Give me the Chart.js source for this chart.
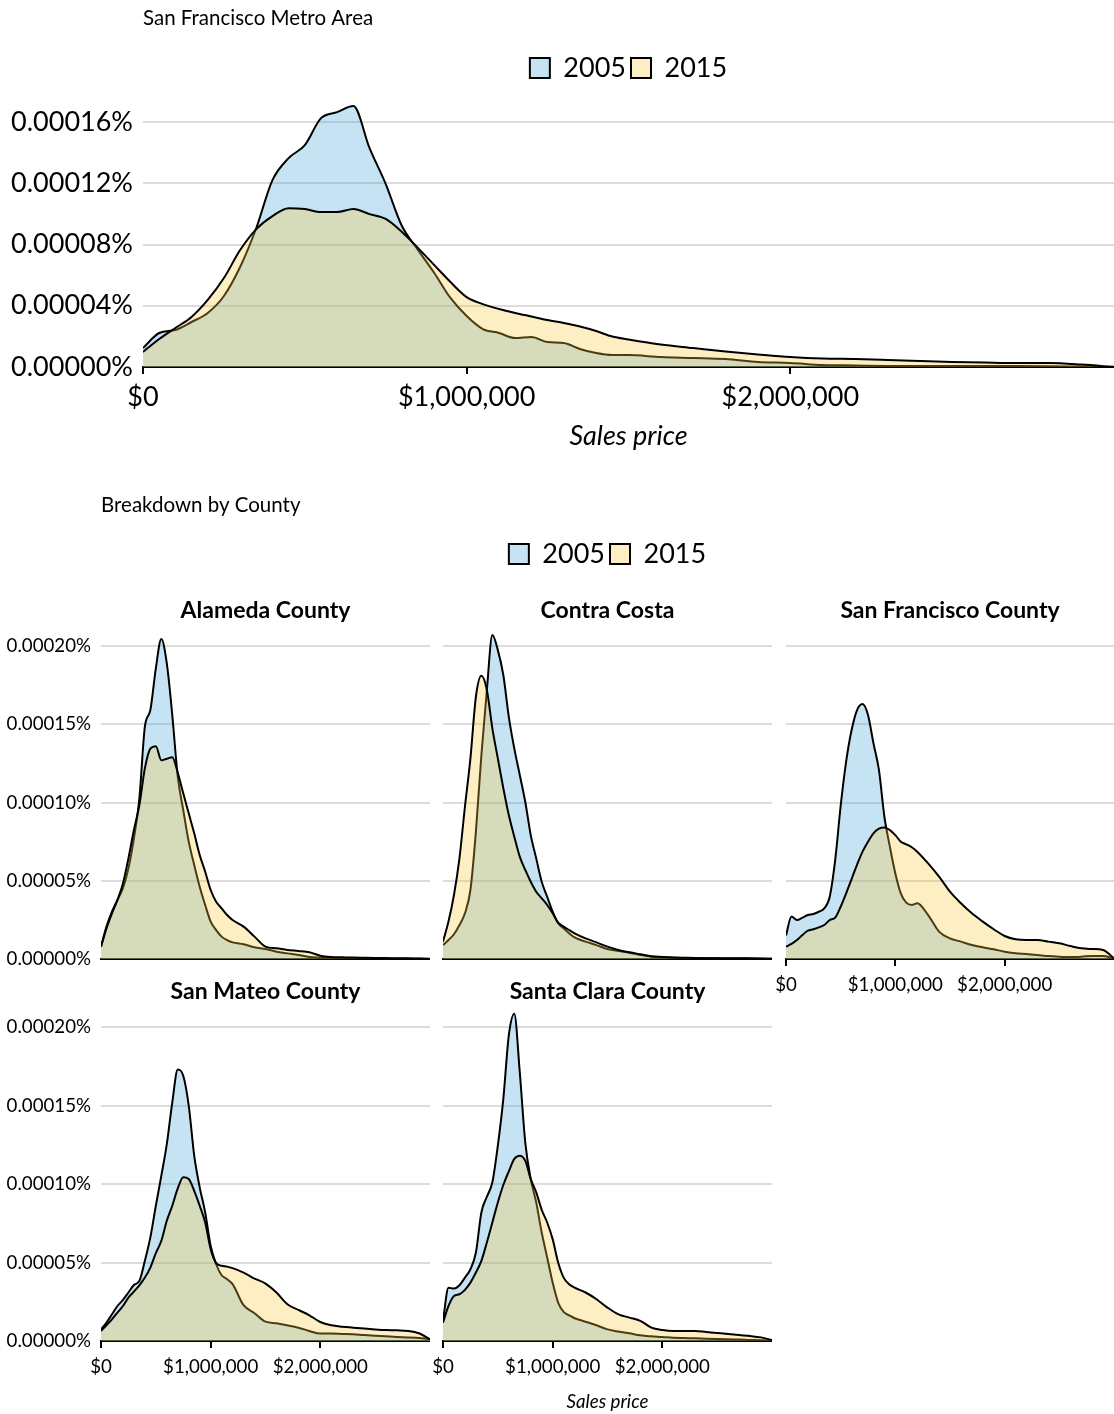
<!DOCTYPE html>
<html>
<head>
<meta charset="utf-8">
<title>Sales price density, 2005 vs 2015</title>
<script src="https://cdn.jsdelivr.net/npm/chart.js@4.4.1/dist/chart.umd.min.js"></script>
<style>
  body { margin: 0; background: #fff; }
  #page { position: relative; width: 1114px; height: 1414px; overflow: hidden; }
  canvas { position: absolute; }
</style>
</head>
<body>
<div id="page">
  <canvas id="metro" width="1114" height="456" style="left:0;top:0"></canvas>
  <canvas id="header" width="1114" height="100" style="left:0;top:485px"></canvas>
  <canvas id="alameda" width="430" height="409" style="left:0;top:590px"></canvas>
  <canvas id="contraCosta" width="372" height="409" style="left:400px;top:590px"></canvas>
  <canvas id="sanFrancisco" width="374" height="409" style="left:740px;top:590px"></canvas>
  <canvas id="sanMateo" width="430" height="443" style="left:0;top:971px"></canvas>
  <canvas id="santaClara" width="372" height="443" style="left:400px;top:971px"></canvas>
</div>
<script>
// densities are per $1,000,000 of sale price (1.0 here = 0.0001% per dollar)
const years = ["2005", "2015"];

const metroPrices = [
  0, 50000, 100000, 150000, 200000, 250000, 300000, 350000, 400000, 450000,
  500000, 550000, 600000, 650000, 700000, 750000, 800000, 850000, 900000, 950000,
  1000000, 1050000, 1100000, 1150000, 1200000, 1250000, 1300000, 1350000, 1400000, 1450000,
  1500000, 1600000, 1700000, 1800000, 1900000, 2000000, 2100000, 2200000, 2300000, 2400000,
  2500000, 2600000, 2700000, 2800000, 2900000, 3000000
];
const metro2005 = [
  0.124, 0.222, 0.242, 0.294, 0.353, 0.464, 0.653, 0.908, 1.221, 1.365,
  1.450, 1.626, 1.665, 1.705, 1.430, 1.195, 0.921, 0.764, 0.614, 0.451,
  0.333, 0.248, 0.222, 0.189, 0.196, 0.163, 0.157, 0.118, 0.091, 0.078,
  0.078, 0.065, 0.059, 0.052, 0.033, 0.026, 0.013, 0.010, 0.007, 0.006,
  0.006, 0.006, 0.006, 0.005, 0.003, 0.001
];
const metro2015 = [
  0.098, 0.183, 0.255, 0.327, 0.438, 0.581, 0.764, 0.901, 0.986, 1.038,
  1.032, 1.012, 1.012, 1.032, 0.999, 0.967, 0.882, 0.777, 0.666, 0.555,
  0.457, 0.411, 0.379, 0.353, 0.330, 0.307, 0.287, 0.264, 0.235, 0.199,
  0.180, 0.147, 0.124, 0.101, 0.082, 0.065, 0.055, 0.052, 0.046, 0.039,
  0.033, 0.029, 0.026, 0.026, 0.016, 0.000
];

const countyPrices = [
  0, 50000, 100000, 150000, 200000, 250000, 300000, 350000, 400000, 450000,
  500000, 550000, 600000, 650000, 700000, 750000, 800000, 850000, 900000, 950000,
  1000000, 1050000, 1100000, 1150000, 1200000, 1300000, 1400000, 1500000, 1600000, 1700000,
  1800000, 1900000, 2000000, 2100000, 2200000, 2300000, 2400000, 2500000, 2600000, 2700000,
  2800000, 2900000, 3000000
];
const alameda2005 = [
  0.079, 0.207, 0.302, 0.377, 0.452, 0.579, 0.771, 1.027, 1.485, 1.591,
  1.857, 2.045, 1.889, 1.559, 1.165, 0.952, 0.750, 0.601, 0.462, 0.345,
  0.239, 0.185, 0.143, 0.121, 0.106, 0.094, 0.075, 0.064, 0.047, 0.036,
  0.026, 0.013, 0.009, 0.006, 0.005, 0.004, 0.003, 0.003, 0.002, 0.002,
  0.001, 0.001, 0.000
];
const alameda2015 = [
  0.079, 0.196, 0.292, 0.377, 0.483, 0.643, 0.824, 0.984, 1.218, 1.345,
  1.360, 1.270, 1.280, 1.290, 1.190, 1.059, 0.931, 0.803, 0.665, 0.558,
  0.441, 0.366, 0.324, 0.281, 0.249, 0.207, 0.143, 0.079, 0.068, 0.058,
  0.051, 0.043, 0.021, 0.013, 0.011, 0.009, 0.008, 0.007, 0.006, 0.005,
  0.004, 0.003, 0.002
];
const contraCosta2005 = [
  0.089, 0.121, 0.158, 0.217, 0.292, 0.441, 0.814, 1.304, 1.719, 2.070,
  1.974, 1.815, 1.548, 1.346, 1.176, 1.005, 0.792, 0.643, 0.494, 0.398,
  0.302, 0.228, 0.196, 0.164, 0.138, 0.111, 0.089, 0.064, 0.051, 0.040,
  0.026, 0.015, 0.011, 0.008, 0.006, 0.005, 0.004, 0.004, 0.003, 0.003,
  0.002, 0.002, 0.001
];
const contraCosta2015 = [
  0.111, 0.239, 0.409, 0.643, 0.973, 1.282, 1.676, 1.810, 1.719, 1.474,
  1.282, 1.091, 0.920, 0.782, 0.654, 0.569, 0.494, 0.430, 0.388, 0.345,
  0.292, 0.232, 0.207, 0.185, 0.164, 0.132, 0.106, 0.079, 0.058, 0.043,
  0.030, 0.017, 0.013, 0.010, 0.008, 0.006, 0.005, 0.005, 0.004, 0.004,
  0.004, 0.003, 0.001
];
const sanFrancisco2005 = [
  0.150, 0.271, 0.249, 0.264, 0.281, 0.288, 0.302, 0.324, 0.398, 0.633,
  0.978, 1.261, 1.463, 1.591, 1.629, 1.559, 1.378, 1.208, 0.909, 0.718,
  0.547, 0.420, 0.360, 0.345, 0.356, 0.281, 0.175, 0.132, 0.111, 0.089,
  0.075, 0.062, 0.047, 0.036, 0.032, 0.026, 0.019, 0.015, 0.013, 0.015,
  0.019, 0.019, 0.004
];
const sanFrancisco2015 = [
  0.079, 0.096, 0.121, 0.153, 0.181, 0.190, 0.202, 0.217, 0.249, 0.264,
  0.334, 0.420, 0.511, 0.603, 0.686, 0.750, 0.803, 0.833, 0.841, 0.824,
  0.792, 0.750, 0.733, 0.714, 0.686, 0.611, 0.526, 0.430, 0.356, 0.292,
  0.239, 0.190, 0.147, 0.126, 0.121, 0.121, 0.111, 0.100, 0.083, 0.068,
  0.064, 0.058, 0.004
];
const sanMateo2005 = [
  0.074, 0.117, 0.170, 0.223, 0.262, 0.309, 0.357, 0.383, 0.511, 0.660,
  0.862, 1.053, 1.255, 1.521, 1.730, 1.690, 1.500, 1.181, 0.979, 0.819,
  0.606, 0.489, 0.419, 0.394, 0.362, 0.228, 0.177, 0.123, 0.113, 0.100,
  0.085, 0.064, 0.047, 0.047, 0.045, 0.043, 0.038, 0.034, 0.030, 0.026,
  0.023, 0.019, 0.011
];
const sanMateo2015 = [
  0.064, 0.100, 0.138, 0.181, 0.223, 0.277, 0.315, 0.355, 0.404, 0.468,
  0.560, 0.638, 0.766, 0.862, 0.972, 1.043, 1.032, 0.957, 0.862, 0.755,
  0.585, 0.496, 0.479, 0.474, 0.464, 0.436, 0.398, 0.366, 0.309, 0.234,
  0.198, 0.164, 0.121, 0.100, 0.091, 0.085, 0.079, 0.074, 0.070, 0.068,
  0.064, 0.049, 0.011
];
const santaClara2005 = [
  0.128, 0.340, 0.334, 0.355, 0.404, 0.457, 0.564, 0.819, 0.919, 1.011,
  1.245, 1.543, 1.947, 2.085, 1.713, 1.266, 1.032, 0.883, 0.691, 0.532,
  0.372, 0.245, 0.185, 0.164, 0.145, 0.123, 0.100, 0.074, 0.060, 0.049,
  0.036, 0.030, 0.026, 0.021, 0.019, 0.017, 0.015, 0.013, 0.011, 0.009,
  0.007, 0.005, 0.002
];
const santaClara2015 = [
  0.117, 0.223, 0.287, 0.298, 0.326, 0.372, 0.436, 0.511, 0.628, 0.755,
  0.883, 0.994, 1.081, 1.160, 1.181, 1.149, 1.032, 0.947, 0.836, 0.755,
  0.649, 0.500, 0.404, 0.362, 0.340, 0.309, 0.266, 0.213, 0.170, 0.149,
  0.128, 0.085, 0.070, 0.064, 0.064, 0.064, 0.057, 0.051, 0.045, 0.038,
  0.032, 0.023, 0.006
];

const priceTicks = [0, 1000000, 2000000];
const metroDensityTicks = [0, 0.4, 0.8, 1.2, 1.6];
const countyDensityTicks = [0, 0.5, 1, 1.5, 2];

Chart.defaults.font.family = "Lato";
Chart.defaults.color = "#000";
Chart.defaults.animation = false;
Chart.defaults.plugins.tooltip.enabled = false;

const fills = ["rgba(62, 162, 212, 0.3)", "rgba(248, 198, 58, 0.3)"];
const gridGrey = "#dcdcdc";

const dollars = (v) => "$" + v.toLocaleString("en-US");
const percent = (v) => (v / 10000).toFixed(5) + "%";

function toPoints(prices, values) {
  return prices.map((p, i) => ({ x: p, y: values[i] }));
}

// 2005 is drawn first so the 2015 fill sits over it (order: higher = further back)
function densitySets(prices, d2005, d2015) {
  return [d2005, d2015].map((values, i) => ({
    label: years[i],
    data: values ? toPoints(prices, values) : [],
    backgroundColor: fills[i],
    borderColor: "#000",
    borderWidth: 2,
    fill: "origin",
    pointRadius: 0,
    cubicInterpolationMode: "monotone",
    order: 2 - i,
  }));
}

function legendOptions() {
  return {
    display: true,
    fullSize: false,
    labels: {
      boxWidth: 20,
      boxHeight: 20,
      padding: 5,
      font: { size: 27 },
      sort: (a, b) => a.datasetIndex - b.datasetIndex,
    },
  };
}

function priceAxis(o) {
  return {
    type: "linear",
    min: 0,
    max: 3000000,
    afterBuildTicks: (s) => { s.ticks = priceTicks.map((v) => ({ value: v })); },
    afterFit: (s) => { s.height = o.height; },
    border: { color: "#000", width: 2 },
    grid: { display: o.labels, drawOnChartArea: false, color: "#000", lineWidth: 2, tickLength: 7 },
    ticks: { display: o.labels, callback: dollars, autoSkip: false, maxRotation: 0, padding: o.pad, font: { size: o.size } },
    title: { display: !!o.title, text: "Sales price", font: { size: o.size, style: "italic" }, padding: { top: 0, bottom: o.titleBottom || 0 } },
  };
}

function densityAxis(o) {
  return {
    min: 0,
    max: o.max,
    afterBuildTicks: (s) => { s.ticks = o.ticks.map((v) => ({ value: v })); },
    afterFit: (s) => { s.width = o.width; },
    border: { display: false },
    grid: {
      drawTicks: false,
      lineWidth: 2,
      color: (ctx) => (ctx.tick && ctx.tick.value === 0 ? "rgba(0,0,0,0)" : gridGrey),
    },
    ticks: { display: o.labels, callback: percent, padding: 10, font: { size: o.size } },
  };
}

// metro area overview
new Chart(document.getElementById("metro"), {
  type: "line",
  data: { datasets: densitySets(metroPrices, metro2005, metro2015) },
  options: {
    responsive: false,
    layout: { padding: 0 },
    plugins: {
      title: {
        display: true, text: "San Francisco Metro Area", align: "start", fullSize: false,
        font: { size: 20.5, weight: "normal" }, padding: { top: 6, bottom: 18.9 },
      },
      legend: legendOptions(),
    },
    scales: {
      x: priceAxis({ height: 89, labels: true, pad: 7, size: 27, title: true, titleBottom: 4 }),
      y: densityAxis({ max: 1.8, ticks: metroDensityTicks, width: 143, labels: true, size: 27 }),
    },
  },
});

// heading and legend for the county panels
new Chart(document.getElementById("header"), {
  type: "line",
  data: { datasets: densitySets(countyPrices, null, null) },
  options: {
    responsive: false,
    layout: { padding: { left: 101 } },
    plugins: {
      title: {
        display: true, text: "Breakdown by County", align: "start", fullSize: false,
        font: { size: 20.5, weight: "normal" }, padding: { top: 7.7, bottom: 18.2 },
      },
      legend: legendOptions(),
    },
    scales: { x: { type: "linear", display: false }, y: { display: false } },
  },
});

function countyPanel(id, name, d2005, d2015, o) {
  new Chart(document.getElementById(id), {
    type: "line",
    data: { datasets: densitySets(countyPrices, d2005, d2015) },
    options: {
      responsive: false,
      layout: { padding: 0 },
      plugins: {
        title: {
          display: true, text: name, fullSize: false,
          font: { size: 23, weight: "bold" }, padding: { top: 7.2, bottom: 5.6 },
        },
        legend: { display: false },
      },
      scales: {
        x: priceAxis({ height: o.xHeight, labels: o.priceLabels, pad: 8, size: 18.7, title: o.title, titleBottom: 1 }),
        y: densityAxis({ max: 2.1, ticks: countyDensityTicks, width: o.yWidth, labels: o.densityLabels, size: 18.7 }),
      },
    },
  });
}

countyPanel("alameda", "Alameda County", alameda2005, alameda2015,
  { yWidth: 101, densityLabels: true, xHeight: 40, priceLabels: false });
countyPanel("contraCosta", "Contra Costa", contraCosta2005, contraCosta2015,
  { yWidth: 43, densityLabels: false, xHeight: 40, priceLabels: false });
countyPanel("sanFrancisco", "San Francisco County", sanFrancisco2005, sanFrancisco2015,
  { yWidth: 46, densityLabels: false, xHeight: 40, priceLabels: true });
countyPanel("sanMateo", "San Mateo County", sanMateo2005, sanMateo2015,
  { yWidth: 101, densityLabels: true, xHeight: 73, priceLabels: true });
countyPanel("santaClara", "Santa Clara County", santaClara2005, santaClara2015,
  { yWidth: 43, densityLabels: false, xHeight: 73, priceLabels: true, title: true });
</script>
</body>
</html>
